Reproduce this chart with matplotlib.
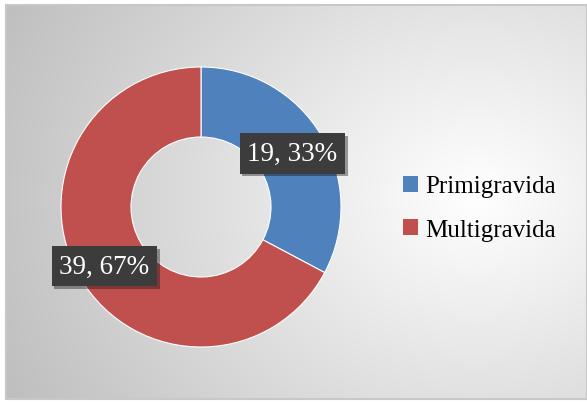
import numpy as np
import matplotlib.pyplot as plt
import matplotlib.patheffects as pe
from matplotlib.patches import Patch

categories = ['Primigravida', 'Multigravida']
counts = [19, 39]
colors = ['#4F81BD', '#C0504D']

plt.rcParams['font.family'] = ['Liberation Serif', 'DejaVu Serif']

W, H = 587, 406
fig = plt.figure(figsize=(W / 100, H / 100), dpi=100)

# grey radial gradient panel
bg = fig.add_axes([6 / W, 6 / H, 581 / W, 394 / H])
yy, xx = np.mgrid[0:394, 0:581]
d = np.sqrt(((xx - 470) / 520.0) ** 2 + ((yy - 190) / 430.0) ** 2)
g = np.clip(1.0 - 0.25 * d, 0.74, 1.0)
bg.imshow(np.dstack([g, g, g]), aspect='auto', extent=[0, 1, 0, 1], origin='upper')
bg.set_axis_off()
fig.patches.append(plt.Rectangle((6 / W, 6 / H), 581 / W, 394 / H, transform=fig.transFigure,
                                 fill=False, edgecolor='#c8c8c8', linewidth=1.5))

ax = fig.add_axes([61 / W, 58 / H, 280 / W, 280 / H])
wedges, _ = ax.pie(counts, colors=colors, startangle=90, counterclock=False, radius=1,
                   wedgeprops=dict(width=0.5, edgecolor='white', linewidth=0.8))
ax.set_xlim(-1, 1)
ax.set_ylim(-1, 1)
ax.set_axis_off()

total = sum(counts)
offsets = [(0.0, -0.01), (-0.04, -0.03)]
for w, c, (ox, oy) in zip(wedges, counts, offsets):
    ang = np.deg2rad((w.theta1 + w.theta2) / 2)
    r = 0.76
    ax.text(r * np.cos(ang) + ox, r * np.sin(ang) + oy, f'{c}, {round(100 * c / total)}%',
            ha='center', va='center', fontsize=19.5, color='white',
            bbox=dict(boxstyle='square,pad=0.28', facecolor='#3c3c3c', edgecolor='none',
                      path_effects=[pe.withSimplePatchShadow(offset=(2, -2), alpha=0.4)]))

handles = [Patch(facecolor=c) for c in colors]
fig.legend(handles, categories, loc='center left', bbox_to_anchor=(381 / W, 1 - 209 / H),
           frameon=False, fontsize=18, handlelength=0.6, handleheight=0.6,
           handletextpad=0.25, labelspacing=0.85)

fig.savefig('out.png', dpi=100)
